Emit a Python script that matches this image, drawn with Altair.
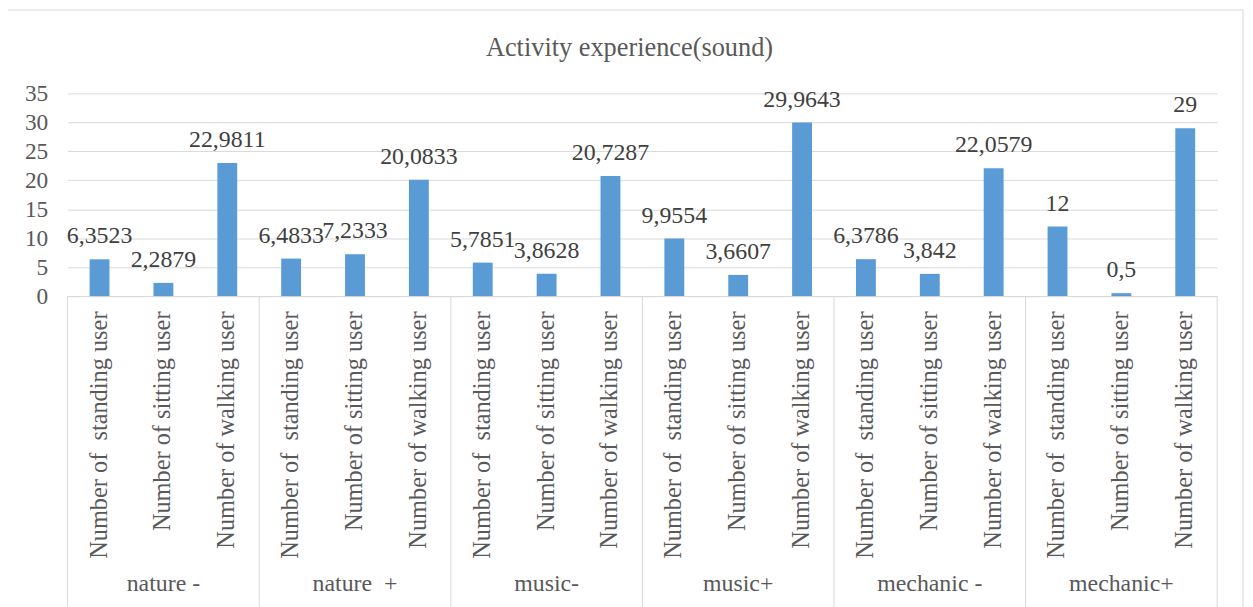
import altair as alt
import pandas as pd

groups = ["nature -", "nature \u00a0+", "music-", "music+", "mechanic -", "mechanic+"]
subs = ["Number of \u00a0standing user", "Number of sitting user", "Number of walking user"]
values = [
    [6.3523, 2.2879, 22.9811],
    [6.4833, 7.2333, 20.0833],
    [5.7851, 3.8628, 20.7287],
    [9.9554, 3.6607, 29.9643],
    [6.3786, 3.842, 22.0579],
    [12, 0.5, 29],
]
y_ticks = [0, 5, 10, 15, 20, 25, 30, 35]

rows = []
for gi, g in enumerate(groups):
    for si, s in enumerate(subs):
        rows.append({
            "key": f"{gi}|{s}",
            "group": g,
            "sub": s,
            "si": si,
            "last": (gi == len(groups) - 1 and si == len(subs) - 1),
            "value": values[gi][si],
        })
df = pd.DataFrame(rows)
order = list(df["key"])

FONT = "Times New Roman, Liberation Serif, DejaVu Serif, serif"
GRID = "#d9d9d9"
TXT = "#595959"
W, H = 1157, 204

xaxis = alt.Axis(title=None, labelAngle=270, labelExpr="split(datum.label, '|')[1]",
                 labelFont=FONT, labelFontSize=24.5, labelColor=TXT, labelPadding=15,
                 ticks=False, domainColor=GRID, domainWidth=1, labelLimit=400,
                 labelOverlap=False)
xscale = alt.Scale(paddingInner=0, paddingOuter=0)
yaxis = alt.Axis(title=None, values=y_ticks, grid=True, gridColor=GRID, gridWidth=1,
                 domain=False, ticks=False, labelFont=FONT, labelFontSize=23.5,
                 labelColor=TXT, labelPadding=20, labelOverlap=False)
yscale = alt.Scale(domain=[0, 35], nice=False, zero=True)


def X(**kw):
    return alt.X("key:N", sort=order, scale=xscale, axis=xaxis, **kw)


yenc = alt.Y("value:Q", scale=yscale, axis=yaxis)

base = alt.Chart(df)

bars = base.mark_bar(color="#5b9bd5", size=20).encode(x=X(), y=yenc)

labels = base.transform_calculate(
    lab="replace(toString(datum.value), '.', ',')"
).mark_text(font=FONT, fontSize=24, color="#404040", baseline="alphabetic", dy=-16).encode(
    x=X(), y=yenc, text="lab:N",
)

group_labels = base.transform_filter("datum.si == 1").mark_text(
    font=FONT, fontSize=24, color=TXT, baseline="alphabetic"
).encode(
    x=X(), y=alt.value(H + 297), text="group:N",
)

sep_left = base.transform_filter("datum.si == 0").mark_rule(color=GRID, strokeWidth=1).encode(
    x=X(bandPosition=0), y=alt.value(H), y2=alt.value(H + 330),
)
sep_right = base.transform_filter("datum.last").mark_rule(color=GRID, strokeWidth=1).encode(
    x=X(bandPosition=1), y=alt.value(H), y2=alt.value(H + 330),
)

border = alt.Chart(alt.Data(values=[{}])).mark_rect(
    fillOpacity=0, stroke=GRID, strokeWidth=1
).encode(
    x=alt.value(-61), x2=alt.value(1183), y=alt.value(-84), y2=alt.value(H + 330)
)

title = alt.Chart(alt.Data(values=[{"t": "Activity experience(sound)"}])).mark_text(
    font=FONT, fontSize=26.5, color=TXT, baseline="alphabetic", align="center"
).encode(
    x=alt.value(W / 2 - 13), y=alt.value(-38), text="t:N"
)

chart = alt.layer(border, bars, labels, sep_left, sep_right, group_labels, title).properties(
    width=W, height=H,
    autosize=alt.AutoSizeParams(type="none"),
    padding={"left": 60, "top": 84, "right": 28, "bottom": 320},
).configure_view(stroke=None)

chart.save("out.html", embed_options={"renderer": "svg", "actions": False})
